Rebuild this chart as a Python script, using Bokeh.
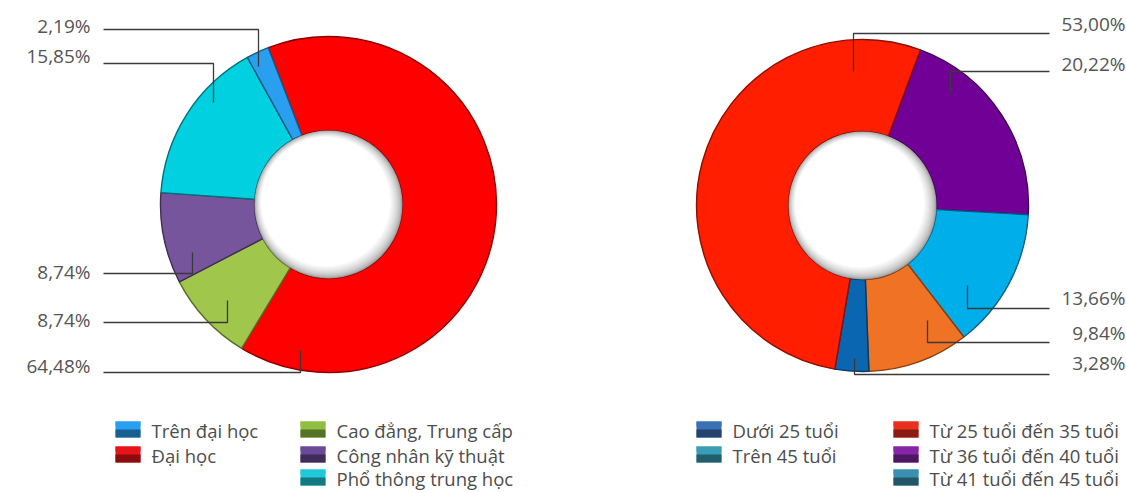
import numpy as np
from bokeh.plotting import figure
from bokeh.models import ColumnDataSource, Range1d
from bokeh.embed import file_html
from bokeh.resources import INLINE
from bokeh.core.properties import value

W, H = 1126, 493

# ---------------- data ----------------
# Left donut: education level (clockwise order starting at red slice)
edu_categories = ["Đại học", "Cao đẳng, Trung cấp", "Công nhân kỹ thuật",
                  "Phổ thông trung học", "Trên đại học"]
edu_values = [64.48, 8.74, 8.74, 15.85, 2.19]
edu_colors = ["#ff0000", "#a1c64c", "#77559d", "#00d0e0", "#2a9ff0"]

# Right donut: age groups (clockwise order starting at purple slice)
age_categories = ["Từ 36 tuổi đến 40 tuổi", "Từ 41 tuổi đến 45 tuổi", "Trên 45 tuổi",
                  "Dưới 25 tuổi", "Từ 25 tuổi  đến 35 tuổi"]
age_values = [20.22, 13.66, 9.84, 3.28, 53.00]
age_colors = ["#700096", "#00aeea", "#f07225", "#0b66b2", "#ff1e00"]

# Legends (as printed)
edu_legend_labels = ["Trên đại học", "Đại học", "Cao đẳng, Trung cấp",
                     "Công nhân kỹ thuật", "Phổ thông trung học"]
edu_legend_colors = ["#2a9ff0", "#e8141a", "#8fbf40", "#6a4a98", "#20c8d8"]
age_legend_labels = ["Dưới 25 tuổi", "Trên 45 tuổi", "Từ 25 tuổi  đến 35 tuổi",
                     "Từ 36 tuổi đến 40 tuổi", "Từ 41 tuổi đến 45 tuổi"]
age_legend_colors = ["#3b70b6", "#3a9db5", "#e8301e", "#8426a6", "#3a8fae"]

# ---------------- layout constants ----------------
FONT = "Open Sans"
LABEL_COLOR = "#555555"


def Y(y):
    return H - y


def darker(hexc, f=0.6):
    h = hexc.lstrip("#")
    r, g, b = (int(h[i:i + 2], 16) for i in (0, 2, 4))
    return "#%02x%02x%02x" % (int(r * f), int(g * f), int(b * f))


p = figure(width=W, height=H, x_range=Range1d(0, W), y_range=Range1d(0, H),
           output_backend="svg", toolbar_location=None, min_border=0,
           x_axis_location=None, y_axis_location=None)
p.grid.visible = False
p.outline_line_color = None
p.background_fill_color = "white"
p.border_fill_color = "white"


def donut(cx, cy, r_out, r_in, vals, cols, start_cw_deg):
    v = np.array(vals, dtype=float)
    frac = v / v.sum() * 360.0
    cum = np.concatenate([[0], np.cumsum(frac)])
    a_start = np.radians(90 - (start_cw_deg + cum[1:]))
    a_end = np.radians(90 - (start_cw_deg + cum[:-1]))
    src = ColumnDataSource(dict(start=a_start, end=a_end, color=cols,
                                line=[darker(c, 0.55) for c in cols]))
    p.annular_wedge(x=cx, y=Y(cy), inner_radius=r_in, outer_radius=r_out,
                    start_angle="start", end_angle="end", direction="anticlock",
                    fill_color="color", line_color="line", line_width=1.4,
                    source=src)
    # hole with soft inner shadow
    N = 16
    for k in range(N + 1):
        t = (k / N) ** 0.55
        g = int(150 + (255 - 150) * t)
        col = "#%02x%02x%02x" % (g, g, g)
        p.circle(x=cx - k * 0.18, y=Y(cy) + k * 0.18, radius=r_in - k * 0.6,
                 fill_color=col, line_color=None)


donut(328, 204, 168, 74, edu_values, edu_colors, -21.0)
donut(862, 205, 166, 74, age_values, age_colors, 20.4)


def fmt(v):
    return ("%.2f" % v).replace(".", ",") + "%"


# label layout per slice (same order as data arrays): text y, line y, anchor x, anchor y
edu_text_y = [365, 319, 271, 55, 25]
edu_line_y = [372, 322, 273, 63, 29]
edu_anchor_x = [300, 227, 192, 213, 258]
edu_anchor_y = [350, 300, 252, 102, 66]

age_text_y = [63, 297, 332, 362, 23]
age_line_y = [71, 308, 342, 374, 33]
age_anchor_x = [950, 967, 927, 854, 853]
age_anchor_y = [93, 285, 320, 358, 71]

xs, ys = [], []
for ly, ax, ay in zip(edu_line_y, edu_anchor_x, edu_anchor_y):
    xs.append([103, ax, ax])
    ys.append([Y(ly), Y(ly), Y(ay)])
for ly, ax, ay in zip(age_line_y, age_anchor_x, age_anchor_y):
    xs.append([1049, ax, ax])
    ys.append([Y(ly), Y(ly), Y(ay)])
p.multi_line(xs=xs, ys=ys, line_color="#3a3a3a", line_width=1.3)

p.text(x=[90] * len(edu_values), y=[Y(t) for t in edu_text_y],
       text=[fmt(v) for v in edu_values], text_align="right",
       text_baseline="middle", text_font=value(FONT), text_font_size="19px",
       text_color=LABEL_COLOR)
p.text(x=[1125] * len(age_values), y=[Y(t) for t in age_text_y],
       text=[fmt(v) for v in age_values], text_align="right",
       text_baseline="middle", text_font=value(FONT), text_font_size="19px",
       text_color=LABEL_COLOR)

# legends
row_y = [430, 455, 478]


def legend(labels, colors, col_x):
    # 2 items in column 1, 3 in column 2
    pos = [(col_x[0], row_y[0]), (col_x[0], row_y[1]),
           (col_x[1], row_y[0]), (col_x[1], row_y[1]), (col_x[1], row_y[2])]
    sx = [q[0] + 12.5 for q in pos]
    sy = [Y(q[1] - 1) for q in pos]
    p.rect(x=sx, y=sy, width=25, height=16, fill_color=colors, line_color=None)
    p.rect(x=sx, y=[v - 4 for v in sy], width=25, height=8,
           fill_color=[darker(c, 0.6) for c in colors], line_color=None)
    p.rect(x=sx, y=[v + 5.5 for v in sy], width=25, height=5,
           fill_color=colors, line_color=None)
    p.text(x=[q[0] + 36 for q in pos], y=[Y(q[1]) for q in pos], text=labels,
           text_align="left", text_baseline="middle", text_font=value(FONT),
           text_font_size="18.5px", text_color="#4d4d4d")


legend(edu_legend_labels, edu_legend_colors, [115, 300])
legend(age_legend_labels, age_legend_colors, [696, 893])

open("out.html", "w").write(file_html(p, INLINE))
